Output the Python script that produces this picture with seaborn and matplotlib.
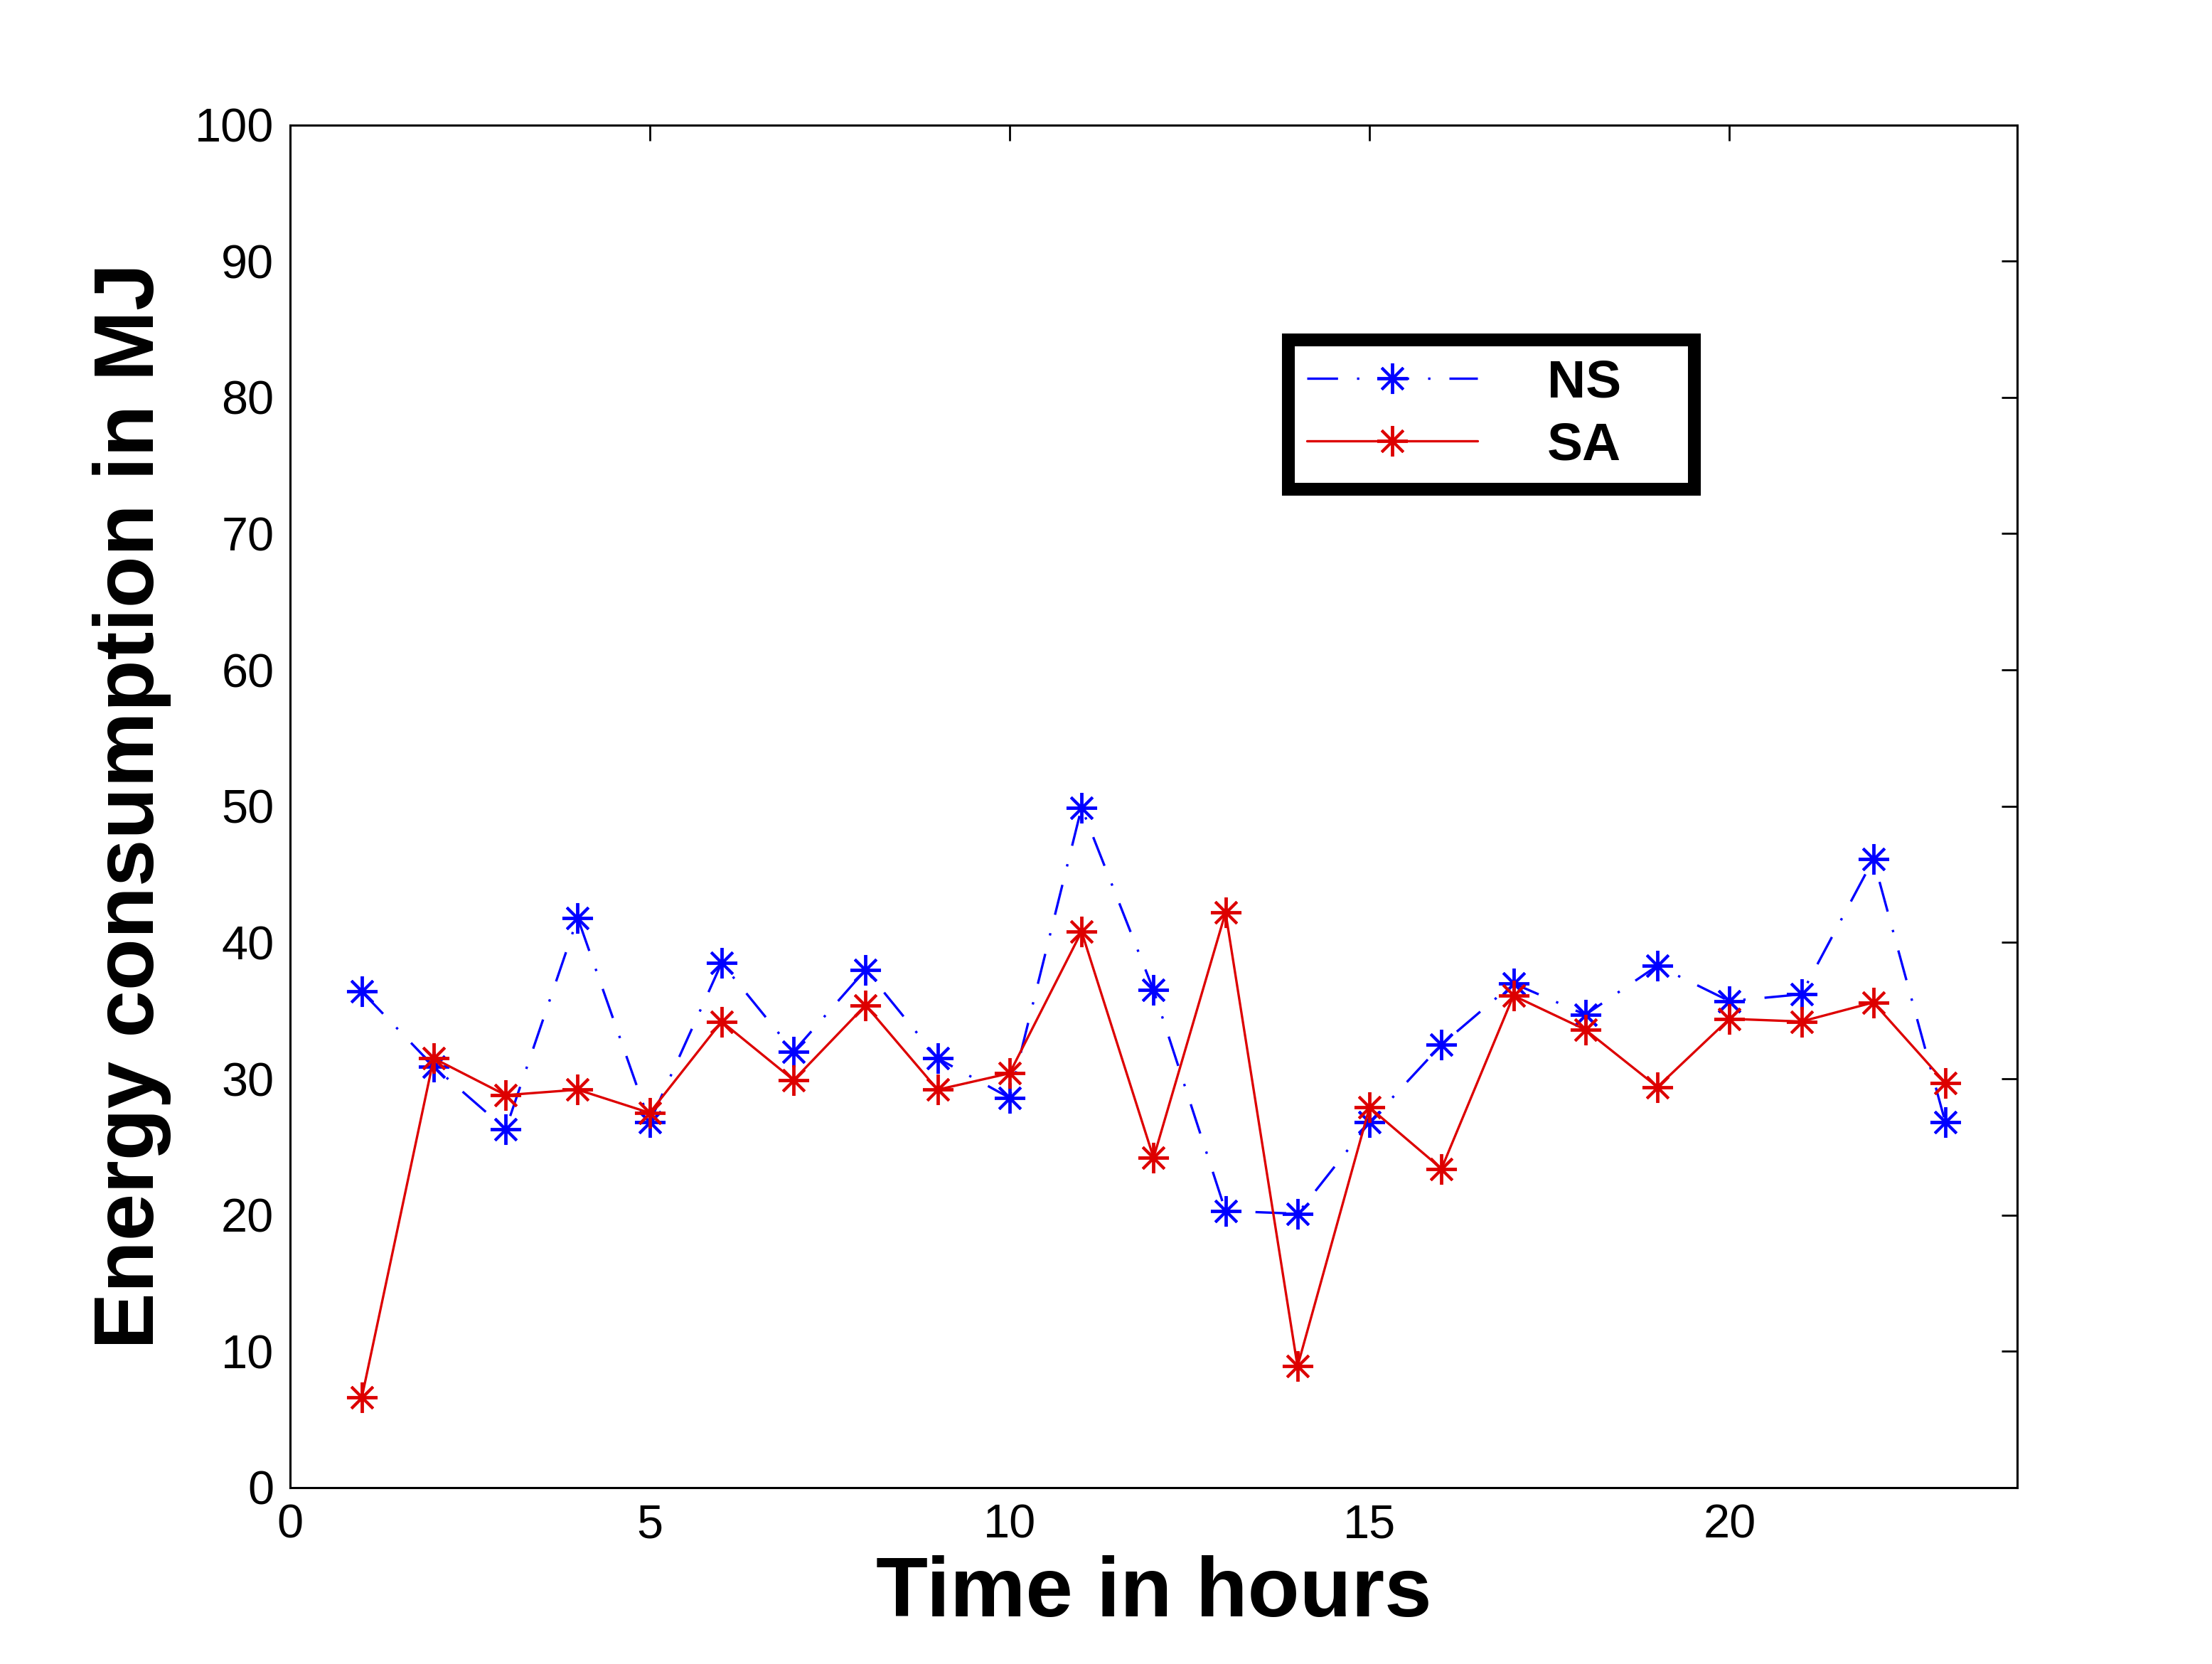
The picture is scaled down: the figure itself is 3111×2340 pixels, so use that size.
import matplotlib
matplotlib.use("Agg")
import matplotlib.pyplot as plt
import seaborn as sns

# --- data ---
hours = list(range(1, 24))
ns_vals = [36.4, 30.9, 26.3, 41.8, 26.8, 38.5, 32.0, 38.0, 31.5, 28.6, 49.9, 36.5,
           20.3, 20.1, 26.8, 32.5, 37.0, 34.7, 38.3, 35.7, 36.2, 46.1, 26.8]
sa_vals = [6.6, 31.5, 28.8, 29.2, 27.5, 34.2, 29.9, 35.4, 29.2, 30.4, 40.8, 24.2,
           42.2, 8.9, 27.9, 23.4, 36.1, 33.6, 29.4, 34.4, 34.2, 35.6, 29.7]
x_ticks = [0, 5, 10, 15, 20]
y_ticks = list(range(0, 101, 10))

sns.set_style("white")
plt.rcParams['font.family'] = ['Liberation Sans', 'DejaVu Sans']
plt.rcParams['text.color'] = 'black'
plt.rcParams['axes.labelcolor'] = 'black'

fig = plt.figure(figsize=(15.555, 11.7), dpi=200)
ax = fig.add_axes([0.131, 0.106, 0.781, 0.819])

asterisk = (8, 2, 0)  # MATLAB-like '*' marker
blue, red = "#0000ff", "#dd0000"
sns.lineplot(x=hours, y=ns_vals, ax=ax, color=blue, linewidth=1.2,
             marker=asterisk, markersize=15.5, markeredgewidth=1.4,
             markeredgecolor=blue, label="NS")
ax.lines[-1].set_dashes([13, 8, 1, 8])
sns.lineplot(x=hours, y=sa_vals, ax=ax, color=red, linewidth=1.2,
             marker=asterisk, markersize=15.5, markeredgewidth=1.4,
             markeredgecolor=red, label="SA")

ax.set_xlim(0, 24)
ax.set_ylim(0, 100)
ax.set_xticks(x_ticks)
ax.set_yticks(y_ticks)
ax.tick_params(direction="in", length=8, width=1, labelsize=24, top=True, right=True,
               pad=8, colors="black")
for s in ax.spines.values():
    s.set_visible(True)
    s.set_color("black")
    s.set_linewidth(1.1)

ax.set_xlabel("Time in hours", fontsize=43, fontweight="bold", labelpad=4)
ax.set_ylabel("Energy consumption in MJ", fontsize=43, fontweight="bold", labelpad=12)

leg = ax.legend(loc="upper left", bbox_to_anchor=(0.578, 0.842, 0.235, 0.0),
                mode="expand", borderaxespad=0, frameon=True, fancybox=False,
                prop={"weight": "bold", "size": 27},
                handlelength=3.2, handletextpad=1.3, labelspacing=0.25,
                borderpad=0.35, edgecolor="black")
leg.get_frame().set_linewidth(6.5)
leg.get_frame().set_facecolor("white")
leg.get_frame().set_alpha(1)

fig.savefig("out.png", dpi=200, facecolor="white")
